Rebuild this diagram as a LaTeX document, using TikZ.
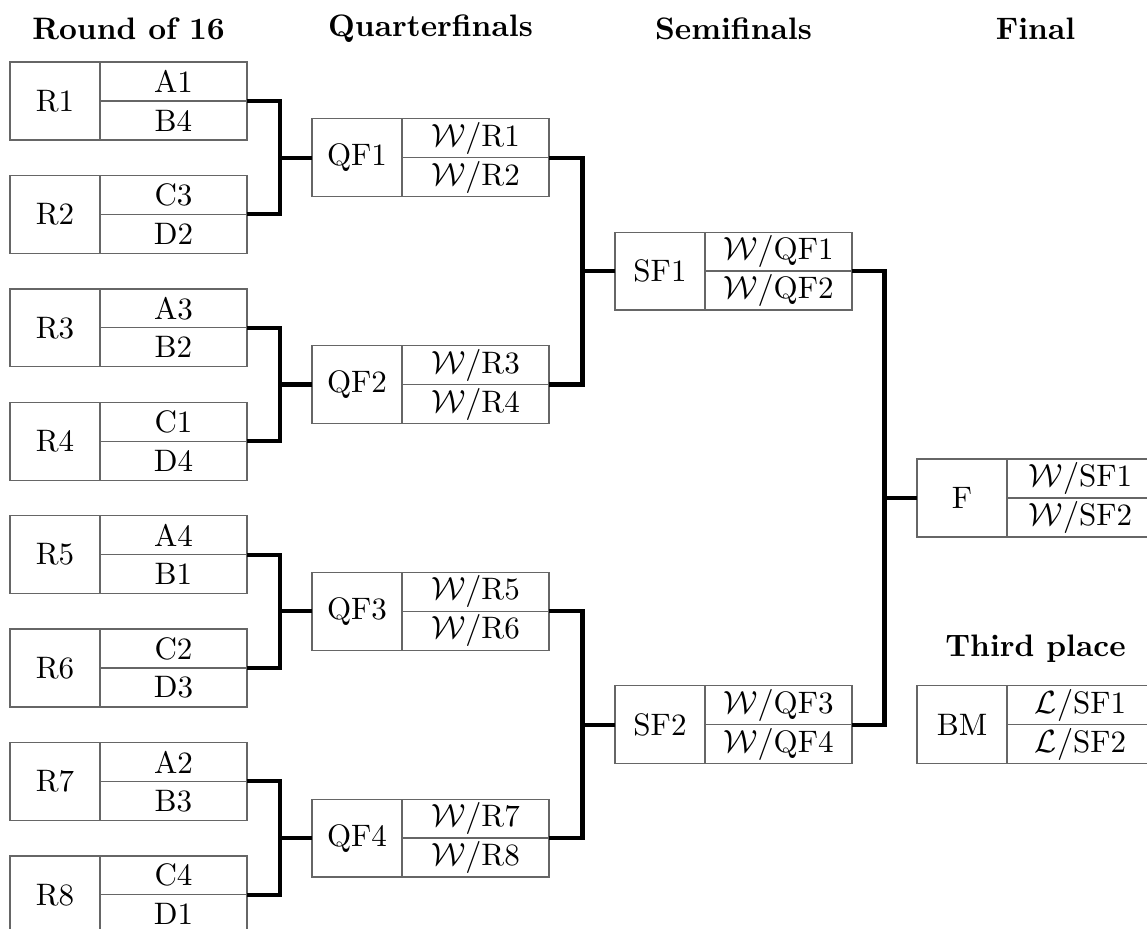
\documentclass[tikz,border=0pt]{standalone}
\usepackage{tikz}

\begin{document}
\begin{tikzpicture} [x = 0.3414pt, y = -0.3414pt,
	every node/.style = {font = \fontsize{10.6}{13}\selectfont},
	cell/.style = {draw = black!60,
		line width = 0.45pt,
		outer sep = 0pt,
		inner sep = 1pt},
	lcell/.style = {cell,
		minimum width = 30.7pt,
		minimum height = 26.6pt},
	rcell/.style = {cell,
		minimum width = 50.2pt,
		minimum height = 13.3pt},
	link/.style = {line width = 1.4pt},
	title/.style = {font = \fontsize{10.6}{13}\selectfont\bfseries}]

	\useasboundingbox (0,0) rectangle (1147,928);

	% round headings
	\node (h16) at (128.5,29) [title] {Round of 16};
	\node (hqf) at (430.5,29) [title] {Quarterfinals};
	\node (hsf) at (733.5,29) [title] {Semifinals};
	\node (hf) at (1035.5,29) [title] {Final};
	\node (h3) at (1035.5,649) [title] {Third place};

	% round of 16
	\foreach \i/\t/\b in {1/A1/B4, 2/C3/D2, 3/A3/B2, 4/C1/D4,
		5/A4/B1, 6/C2/D3, 7/A2/B3, 8/C4/D1} {
		\node (R\i) at (55,{101+113.4*(\i-1)}) [lcell] {R\i};
		\node (R\i top) at (R\i.east) [rcell, anchor = south west] {\t};
		\node (R\i bot) at (R\i.east) [rcell, anchor = north west] {\b};
	}

	% quarterfinals
	\foreach \j [evaluate = \j as \a using int(2*\j-1),
		evaluate = \j as \b using int(2*\j)] in {1,...,4} {
		\node (QF\j) at (357,{157.7+226.8*(\j-1)}) [lcell] {QF\j};
		\node (QF\j top) at (QF\j.east) [rcell, anchor = south west] {$\mathcal{W}/$R\a};
		\node (QF\j bot) at (QF\j.east) [rcell, anchor = north west] {$\mathcal{W}/$R\b};
		\draw [link] (R\a bot.north east) -- ++(33,0) |- (R\b bot.north east);
		\draw [link] (QF\j.west) -- ++(-32.5,0);
	}

	% semifinals
	\foreach \k [evaluate = \k as \a using int(2*\k-1),
		evaluate = \k as \b using int(2*\k)] in {1,2} {
		\node (SF\k) at (660,{271.1+453.6*(\k-1)}) [lcell] {SF\k};
		\node (SF\k top) at (SF\k.east) [rcell, anchor = south west] {$\mathcal{W}/$QF\a};
		\node (SF\k bot) at (SF\k.east) [rcell, anchor = north west] {$\mathcal{W}/$QF\b};
		\draw [link] (QF\a bot.north east) -- ++(33.5,0) |- (QF\b bot.north east);
		\draw [link] (SF\k.west) -- ++(-33.5,0);
	}

	% final and third place
	\node (F) at (962,497.9) [lcell] {F};
	\node (Ftop) at (F.east) [rcell, anchor = south west] {$\mathcal{W}/$SF1};
	\node (Fbot) at (F.east) [rcell, anchor = north west] {$\mathcal{W}/$SF2};
	\draw [link] (SF1bot.north east) -- ++(32.5,0) |- (SF2bot.north east);
	\draw [link] (F.west) -- ++(-32.5,0);

	\node (BM) at (962,724.7) [lcell] {BM};
	\node (BMtop) at (BM.east) [rcell, anchor = south west] {$\mathcal{L}/$SF1};
	\node (BMbot) at (BM.east) [rcell, anchor = north west] {$\mathcal{L}/$SF2};

\end{tikzpicture}
\end{document}
